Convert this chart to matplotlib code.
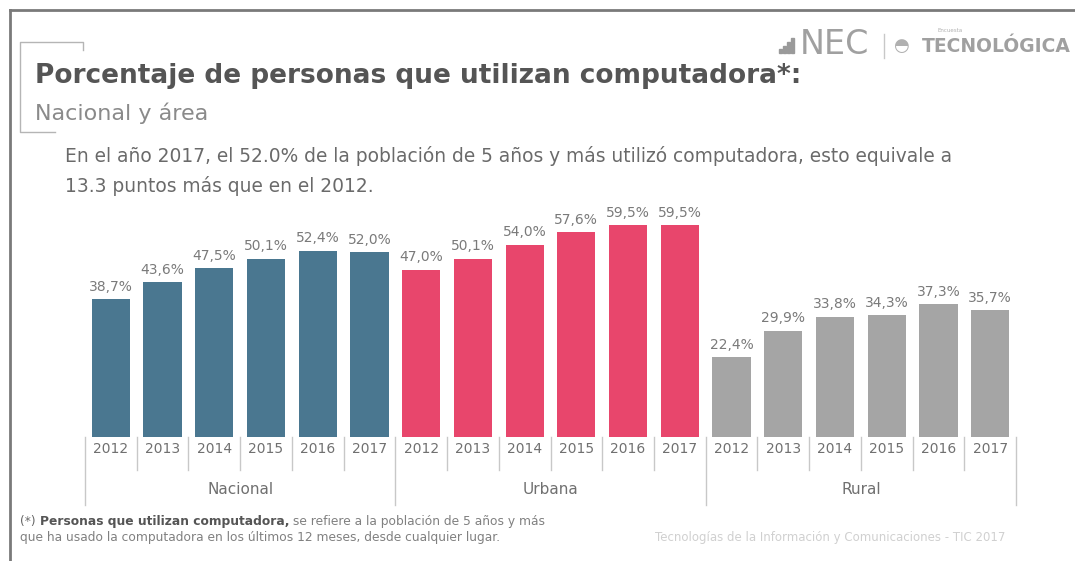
import matplotlib.pyplot as plt
from matplotlib.lines import Line2D
from matplotlib.patches import Rectangle

# porcentaje de personas que utilizan computadora, por area
areas = ["Nacional", "Urbana", "Rural"]
years = ["2012", "2013", "2014", "2015", "2016", "2017"]
nacional = [38.7, 43.6, 47.5, 50.1, 52.4, 52.0]
urbana = [47.0, 50.1, 54.0, 57.6, 59.5, 59.5]
rural = [22.4, 29.9, 33.8, 34.3, 37.3, 35.7]
colors = ["#4a7790", "#e8466c", "#a5a5a5"]

W, H = 1075, 561
fig = plt.figure(figsize=(W / 100, H / 100), dpi=100)
fig.patch.set_facecolor("white")


def px(x, y):
    # pixel position -> figure fraction
    return x / W, 1 - y / H


def fline(xs, ys, **kw):
    fx = [x / W for x in xs]
    fy = [1 - y / H for y in ys]
    fig.add_artist(Line2D(fx, fy, transform=fig.transFigure, **kw))


# slide frame
fline([10, 1075], [10, 10], color="#7a7a7a", lw=2)
fline([10, 10], [10, 561], color="#7a7a7a", lw=2)
# corner bracket next to the title
fline([83, 83, 20, 20, 55], [50, 42, 42, 132, 132], color="#b5b5b5", lw=1)

fig.text(*px(35, 76), "Porcentaje de personas que utilizan computadora*:",
         fontsize=19, fontweight="bold", color="#555555", va="center")
fig.text(*px(35, 113), "Nacional y área", fontsize=16, color="#8a8a8a", va="center")
fig.text(*px(65, 156),
         "En el año 2017, el 52.0% de la población de 5 años y más utilizó computadora, esto equivale a",
         fontsize=13.4, color="#6a6a6a", va="center")
fig.text(*px(65, 186), "13.3 puntos más que en el 2012.", fontsize=13.4, color="#6a6a6a", va="center")

# logo
for i, h in enumerate([4, 7, 11, 15]):
    fig.add_artist(Rectangle(px(779 + i * 4, 53), 2.5 / W, h / H, transform=fig.transFigure,
                             color="#9a9a9a"))
fig.text(*px(800, 45), "NEC", fontsize=24, color="#a0a0a0", va="center")
fline([884, 884], [34, 58], color="#c8c8c8", lw=1)
fig.text(*px(893, 46), "◓", fontsize=13, color="#b0b0b0", va="center")
fig.text(*px(937, 31), "Encuesta", fontsize=4, color="#b0b0b0", va="center")
fig.text(*px(922, 47), "TECNOLÓGICA", fontsize=13.5, fontweight="bold", color="#a0a0a0", va="center")

# bars
ax = fig.add_axes([85 / W, 1 - 437 / H, (1016 - 85) / W, (437 - 200) / H])
ax.set_xlim(0, 18)
ax.set_ylim(0, 66.6)
ax.axis("off")

values = [nacional, urbana, rural]
for g, vals in enumerate(values):
    xs = [g * 6 + i + 0.5 for i in range(len(vals))]
    ax.bar(xs, vals, width=0.74, color=colors[g])
    for x, v in zip(xs, vals):
        ax.text(x, v + 1.5, f"{v:.1f}%".replace(".", ","), ha="center", va="bottom",
                fontsize=10, color="#7a7a7a")

# two-level category axis
slot = (1016 - 85) / 18
for g in range(3):
    for i in range(6):
        k = g * 6 + i
        x0 = 85 + k * slot
        fig.text(*px(x0 + slot / 2, 449), years[i], ha="center", va="center",
                 fontsize=10, color="#707070")
        if i > 0:
            fline([x0, x0], [437, 470], color="#c8c8c8", lw=1)
    xg = 85 + g * 6 * slot
    fline([xg, xg], [437, 505], color="#c8c8c8", lw=1)
    fig.text(*px(xg + 3 * slot, 490), areas[g], ha="center", va="center",
             fontsize=11, color="#707070")
fline([1016, 1016], [437, 505], color="#c8c8c8", lw=1)

# footnote
t0 = fig.text(*px(20, 522), "(*) ", fontsize=8.8, color="#666666", va="center")
t1 = fig.text(0, 0, "Personas que utilizan computadora,", fontsize=8.8, fontweight="bold",
              color="#555555", va="center")
fig.canvas.draw()
r = fig.canvas.get_renderer()
bb = t0.get_window_extent(r)
t1.set_position((bb.x1 / W, 1 - 522 / H))
bb1 = t1.get_window_extent(r)
fig.text(bb1.x1 / W, 1 - 522 / H, " se refiere a la población de 5 años y más",
         fontsize=8.8, color="#808080", va="center")
fig.text(*px(20, 537), "que ha usado la computadora en los últimos 12 meses, desde cualquier lugar.",
         fontsize=8.8, color="#808080", va="center")
fig.text(*px(1005, 538), "Tecnologías de la Información y Comunicaciones - TIC 2017",
         fontsize=8.5, color="#d0d0d0", ha="right", va="center")

fig.savefig("out.png", dpi=100)
